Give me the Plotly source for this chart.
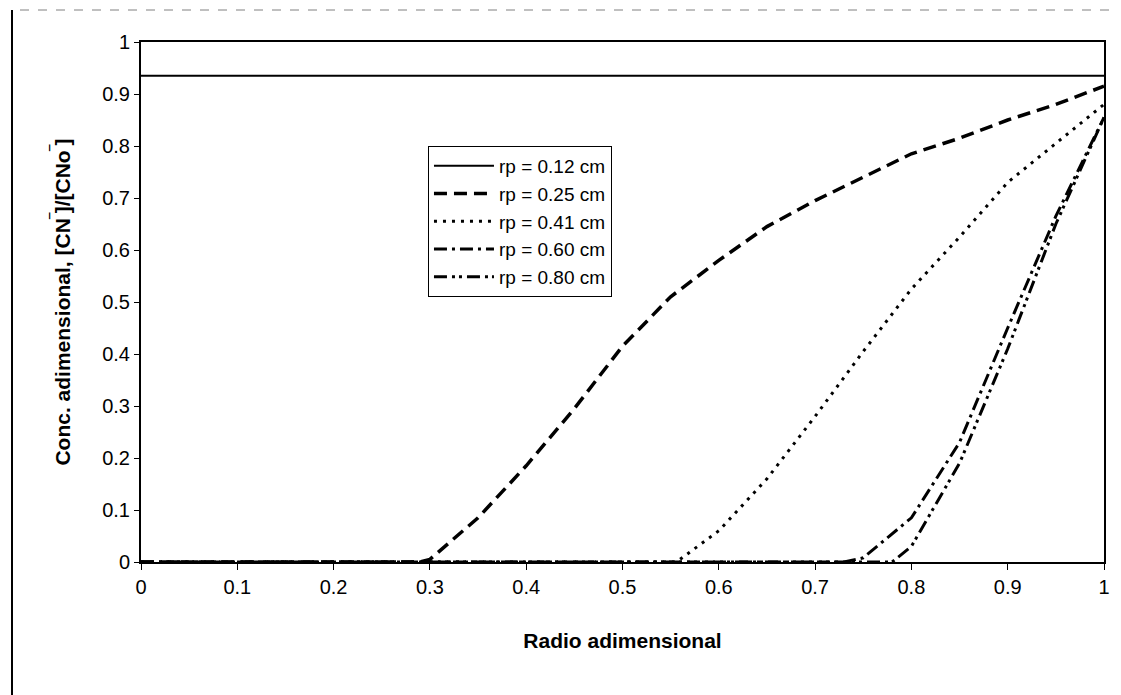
import plotly.graph_objects as go

# Data
x_012 = [0.0, 1.0]
y_012 = [0.935, 0.935]

x_025 = [0.0, 0.1, 0.2, 0.29, 0.3, 0.35, 0.4, 0.45, 0.5, 0.55, 0.6, 0.65, 0.7, 0.75, 0.8, 0.85, 0.9, 0.95, 1.0]
y_025 = [0.0, 0.0, 0.0, 0.0, 0.005, 0.085, 0.185, 0.295, 0.415, 0.51, 0.58, 0.645, 0.695, 0.74, 0.785, 0.815, 0.85, 0.88, 0.915]

x_041 = [0.0, 0.1, 0.2, 0.3, 0.4, 0.5, 0.556, 0.6, 0.65, 0.7, 0.75, 0.8, 0.85, 0.9, 0.95, 1.0]
y_041 = [0.0, 0.0, 0.0, 0.0, 0.0, 0.0, 0.0, 0.06, 0.16, 0.28, 0.405, 0.525, 0.625, 0.73, 0.805, 0.88]

x_060 = [0.0, 0.2, 0.4, 0.6, 0.73, 0.75, 0.8, 0.85, 0.9, 0.95, 1.0]
y_060 = [0.0, 0.0, 0.0, 0.0, 0.0, 0.008, 0.085, 0.23, 0.45, 0.665, 0.855]

x_080 = [0.0, 0.2, 0.4, 0.6, 0.78, 0.8, 0.85, 0.9, 0.95, 1.0]
y_080 = [0.0, 0.0, 0.0, 0.0, 0.0, 0.03, 0.19, 0.41, 0.65, 0.855]

labels = ["rp = 0.12 cm", "rp = 0.25 cm", "rp = 0.41 cm", "rp = 0.60 cm", "rp = 0.80 cm"]
x_ticks = [0, 0.1, 0.2, 0.3, 0.4, 0.5, 0.6, 0.7, 0.8, 0.9, 1]
y_ticks = [0, 0.1, 0.2, 0.3, 0.4, 0.5, 0.6, 0.7, 0.8, 0.9, 1]

series = [
    (x_012, y_012, "solid", 2),
    (x_025, y_025, "13px,7px", 3.5),
    (x_041, y_041, "3px,6px", 3),
    (x_060, y_060, "13px,5px,3px,5px", 3),
    (x_080, y_080, "13px,5px,3px,4px,3px,5px", 3),
]

fig = go.Figure()
for (xs, ys, dash, w), name in zip(series, labels):
    fig.add_trace(go.Scatter(x=xs, y=ys, mode="lines", name=name,
                             line=dict(color="black", width=w, dash=dash)))

font_family = "Liberation Sans, Arial, sans-serif"
fig.update_layout(
    width=1113, height=687,
    margin=dict(l=133, r=17, t=34, b=133),
    paper_bgcolor="white", plot_bgcolor="white",
    font=dict(family=font_family, size=20, color="black"),
    showlegend=True,
    legend=dict(x=0.298, y=0.80, xanchor="left", yanchor="top",
                bgcolor="white", bordercolor="black", borderwidth=1,
                font=dict(size=19), tracegroupgap=0, itemwidth=60),
    xaxis=dict(range=[0, 1], tickvals=x_ticks, ticktext=[f"{v:g}" for v in x_ticks],
               showgrid=False, zeroline=False, showline=True, linecolor="black",
               linewidth=2, mirror=True, ticks="outside", ticklen=6, tickcolor="black",
               tickfont=dict(size=20),
               title=dict(text="<b>Radio adimensional</b>", font=dict(size=21), standoff=36)),
    yaxis=dict(range=[0, 1], tickvals=y_ticks, ticktext=[f"{v:g}" for v in y_ticks],
               showgrid=False, zeroline=False, showline=True, linecolor="black",
               linewidth=2, mirror=True, ticks="outside", ticklen=5, tickcolor="black",
               tickfont=dict(size=20),
               title=dict(text="<b>Conc. adimensional, [CN<sup>‾</sup>]/[CNo<sup>‾</sup>]</b>",
                          font=dict(size=21), standoff=26)),
)

# scanned page border lines
fig.add_shape(type="line", xref="paper", yref="paper",
              x0=(12 - 141) / 963, x1=(12 - 141) / 963,
              y0=(562 - 10) / 520, y1=(562 - 695) / 520,
              line=dict(color="black", width=2))
fig.add_shape(type="line", xref="paper", yref="paper",
              x0=(20 - 141) / 963, x1=(1121 - 141) / 963,
              y0=(562 - 10) / 520, y1=(562 - 10) / 520,
              line=dict(color="gray", width=1, dash="dash"))

fig.write_html("out.html")
